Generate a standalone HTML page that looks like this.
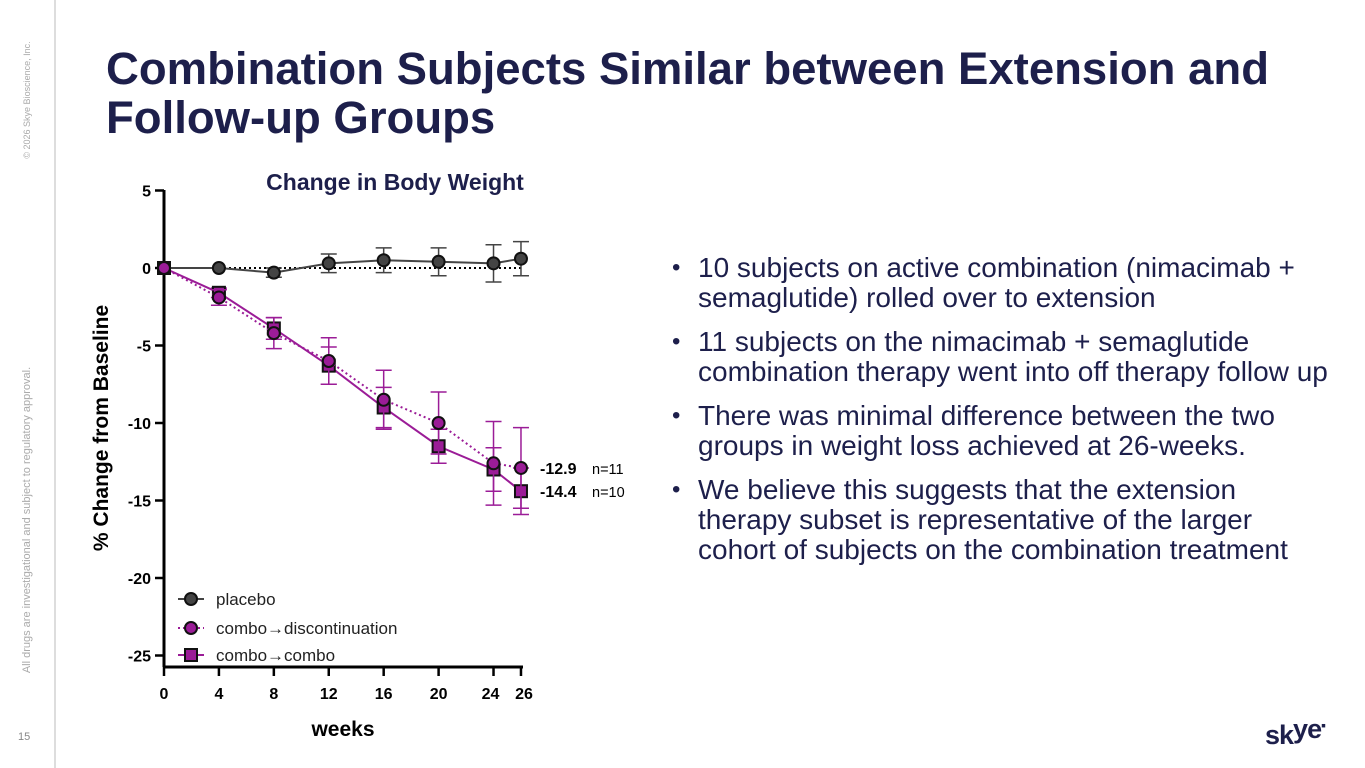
<!DOCTYPE html>
<html><head><meta charset="utf-8"><style>
body{margin:0;width:1365px;height:768px;background:#fff;overflow:hidden;font-family:"Liberation Sans",sans-serif;position:relative}
.abs{position:absolute}
h1{position:absolute;left:106px;top:44px;margin:0;font-size:45.5px;line-height:49px;color:#1d1f4b;font-weight:bold}
ul{position:absolute;left:672px;top:253px;margin:0;padding:0;list-style:none;width:690px;color:#1d1f4b;font-size:28px;line-height:30px;white-space:nowrap}
li{position:relative;padding-left:26px;margin-bottom:14px}
li:before{content:"•";position:absolute;left:0;top:0;font-size:24px}
</style></head><body>
<div class="abs" style="left:54px;top:0;width:2px;height:768px;background:#ddd"></div>
<div class="abs" style="left:27px;top:100px;transform:translate(-50%,-50%) rotate(-90deg);font-size:9px;color:#aaa;white-space:nowrap">© 2026 Skye Bioscience, Inc.</div>
<div class="abs" style="left:27px;top:520px;transform:translate(-50%,-50%) rotate(-90deg);font-size:11px;color:#aaa;white-space:nowrap">All drugs are investigational and subject to regulatory approval.</div>
<div class="abs" style="left:18px;top:731px;font-size:11px;color:#888">15</div>
<h1>Combination Subjects Similar between Extension and<br>Follow-up Groups</h1>
<ul>
<li>10 subjects on active combination (nimacimab +<br>semaglutide) rolled over to extension</li>
<li>11 subjects on the nimacimab + semaglutide<br>combination therapy went into off therapy follow up</li>
<li>There was minimal difference between the two<br>groups in weight loss achieved at 26-weeks.</li>
<li>We believe this suggests that the extension<br>therapy subset is representative of the larger<br>cohort of subjects on the combination treatment</li>
</ul>
<div class="abs" style="left:1265px;top:720px;font-size:27px;font-weight:bold;color:#1d1f4b;letter-spacing:-1px">sk<span style="position:relative;top:-6px">ye</span><span style="font-size:14px;position:relative;top:-14px">▪</span></div>
<svg class="abs" style="left:0;top:0" width="1365" height="768" id="chart"></svg>
<script>
const weeks=[0,4,8,12,16,20,24,26];
const xTicks=[0,4,8,12,16,20,24,26];
const yTicks=[5,0,-5,-10,-15,-20,-25];
const placebo=[0,0,-0.3,0.3,0.5,0.4,0.3,0.6];
const placeboErr=[0,0,0.3,0.6,0.8,0.9,1.2,1.1];
const disc=[0,-1.9,-4.2,-6.0,-8.5,-10.0,-12.6,-12.9];
const discErr=[0,0.5,1.0,1.5,1.9,2.0,2.7,2.6];
const combo=[0,-1.6,-3.9,-6.3,-9.0,-11.5,-13.0,-14.4];
const comboErr=[0,0.3,0.7,1.2,1.3,1.1,1.4,1.5];
const endLabels=["-12.9","-14.4"];
const nLabels=["n=11","n=10"];
const X=w=>164+w*13.73, Y=v=>268-v*15.5;
const svg=document.getElementById('chart');const NS='http://www.w3.org/2000/svg';
function mk(t,a,name,txt){const e=document.createElementNS(NS,t);for(const k in a)e.setAttribute(k,a[k]);


if(txt!==undefined)e.textContent=txt;svg.appendChild(e);return e;}
const P='#9b1c97';
mk('text',{x:395,y:190,'font-size':23,'font-weight':'bold','text-anchor':'middle',fill:'#1d1f4b'},'chart-title','Change in Body Weight');
mk('line',{x1:164,y1:190,x2:164,y2:667,stroke:'#000','stroke-width':3},'y-axis');
mk('line',{x1:163,y1:667,x2:523,y2:667,stroke:'#000','stroke-width':3},'x-axis');
yTicks.forEach(v=>{mk('line',{x1:155,y1:Y(v),x2:164,y2:Y(v),stroke:'#000','stroke-width':2.5},'y-tick');
mk('text',{x:151,y:Y(v)+6,'font-size':16,'font-weight':'bold','text-anchor':'end'},'y-tick-label',String(v));});
xTicks.forEach(w=>{mk('line',{x1:X(w),y1:667,x2:X(w),y2:676,stroke:'#000','stroke-width':2.5},'x-tick');
mk('text',{x:X(w)+(w==24?-3:w==26?3:0),y:699,'font-size':16,'font-weight':'bold','text-anchor':'middle'},'x-tick-label',String(w));});
mk('text',{x:343,y:736,'font-size':21,'font-weight':'bold','text-anchor':'middle'},'x-axis-title','weeks');
mk('text',{x:0,y:0,'font-size':21,'font-weight':'bold','text-anchor':'middle',transform:'translate(108,428) rotate(-90)'},'y-axis-title','% Change from Baseline');
mk('line',{x1:X(0),y1:Y(0),x2:X(26),y2:Y(0),stroke:'#000','stroke-width':2,'stroke-dasharray':'2,3'},'zero-reference-line');
function series(vals,errs,col,dash,shape,name){
 vals.forEach((v,i)=>{if(!errs[i])return;const x=X(weeks[i]);
  mk('path',{d:`M${x},${Y(v+errs[i])}V${Y(v-errs[i])}M${x-8},${Y(v+errs[i])}h16M${x-8},${Y(v-errs[i])}h16`,stroke:col,'stroke-width':1.5,fill:'none'},name+'-error-bar');});
 mk('polyline',{points:vals.map((v,i)=>X(weeks[i])+','+Y(v)).join(' '),fill:'none',stroke:col,'stroke-width':2,'stroke-dasharray':dash||''},name+'-line');
 vals.forEach((v,i)=>{const x=X(weeks[i]),y=Y(v);
  if(shape=='sq')mk('rect',{x:x-6,y:y-6,width:12,height:12,fill:col,stroke:'#111','stroke-width':2},name+'-point');
  else mk('circle',{cx:x,cy:y,r:6,fill:col,stroke:'#111','stroke-width':2},name+'-point');});
}
series(placebo,placeboErr,'#444','','c','placebo');
series(combo,comboErr,P,'','sq','combo-combo');
series(disc,discErr,P,'2,3','c','combo-discontinuation');
mk('text',{x:540,y:Y(disc[7])+6,'font-size':16,'font-weight':'bold'},'end-label-disc',endLabels[0]);
mk('text',{x:592,y:Y(disc[7])+6,'font-size':14.5},'n-label-disc',nLabels[0]);
mk('text',{x:540,y:Y(combo[7])+6,'font-size':16,'font-weight':'bold'},'end-label-combo',endLabels[1]);
mk('text',{x:592,y:Y(combo[7])+6,'font-size':14.5},'n-label-combo',nLabels[1]);
const leg=[['placebo','#444','','c',599],['combo→discontinuation',P,'2,3','c',628],['combo→combo',P,'','sq',655]];
leg.forEach(l=>{mk('line',{x1:178,y1:l[4],x2:204,y2:l[4],stroke:l[1],'stroke-width':2,'stroke-dasharray':l[2]},'legend-line');
 if(l[3]=='sq')mk('rect',{x:185,y:l[4]-6,width:12,height:12,fill:l[1],stroke:'#111','stroke-width':2},'legend-marker');
 else mk('circle',{cx:191,cy:l[4],r:6,fill:l[1],stroke:'#111','stroke-width':2},'legend-marker');
 mk('text',{x:216,y:l[4]+6,'font-size':17,fill:'#222'},'legend-entry',l[0]);});
</script>
</body></html>
